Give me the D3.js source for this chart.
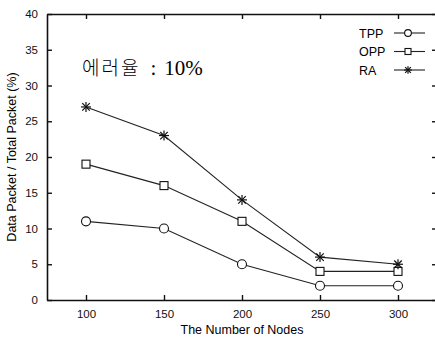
<!DOCTYPE html>
<html>
<head>
<meta charset="utf-8">
<script src="https://cdn.jsdelivr.net/npm/d3@7"></script>
<style>
  body { margin: 0; background: #fff; }
  svg { font-family: "Liberation Sans", Arial, sans-serif; }
</style>
</head>
<body>
<div id="chart"></div>
<script>
// values
const nodes = [100, 150, 200, 250, 300];
const tpp = [11, 10, 5, 2, 2];
const opp = [19, 16, 11, 4, 4];
const ra = [27, 23, 14, 6, 5];
const yTicks = [0, 5, 10, 15, 20, 25, 30, 35, 40];
const seriesNames = ["TPP", "OPP", "RA"];
const seriesMarks = ["circle", "square", "star"];

const width = 435, height = 342;
const margin = { left: 47, top: 14, right: -2, bottom: 42 };

const svg = d3.select("#chart").append("svg")
    .attr("width", width)
    .attr("height", height);

const x = d3.scaleLinear().domain([75, 325]).range([margin.left, width - margin.right]);
const y = d3.scaleLinear().domain([0, 40]).range([height - margin.bottom, margin.top]);

// frame axes
const gx = svg.append("g").attr("transform", `translate(0,${y(0)})`)
    .call(d3.axisBottom(x).tickValues(nodes).tickSize(-5).tickPadding(10).tickSizeOuter(0));
const gxTop = svg.append("g").attr("transform", `translate(0,${y(40)})`)
    .call(d3.axisTop(x).tickValues(nodes).tickSize(-5).tickFormat("").tickSizeOuter(0));
const gy = svg.append("g").attr("transform", `translate(${x(75)},0)`)
    .call(d3.axisLeft(y).tickValues(yTicks).tickSize(-5).tickPadding(9).tickSizeOuter(0));
const gyR = svg.append("g").attr("transform", `translate(${x(325)},0)`)
    .call(d3.axisRight(y).tickValues(yTicks).tickSize(-5).tickFormat("").tickSizeOuter(0));

[gx, gxTop, gy, gyR].forEach(g => {
    g.select(".domain").attr("stroke", "#111").attr("stroke-width", 1.6);
    g.selectAll(".tick line").attr("stroke", "#111").attr("stroke-width", 1.4);
    g.selectAll("text").attr("fill", "#111").style("font-size", "11.5px")
        .style("font-family", "Liberation Sans, Arial, sans-serif");
});

// axis titles
svg.append("text")
    .attr("x", 242).attr("y", 334)
    .attr("text-anchor", "middle")
    .style("font-size", "12.5px")
    .text("The Number of Nodes");

svg.append("text")
    .attr("transform", `translate(16,${157}) rotate(-90)`)
    .attr("text-anchor", "middle")
    .style("font-size", "12.5px")
    .text("Data Packet / Total Packet (%)");

const note = svg.append("text")
    .attr("x", 82).attr("y", 75)
    .style("font-size", "19px");
note.append("tspan")
    .style("font-family", "'Noto Sans CJK KR', sans-serif")
    .style("font-weight", 300)
    .style("letter-spacing", "2px")
    .text("에러율");
note.append("tspan")
    .style("font-family", "'Liberation Serif', 'DejaVu Serif', serif")
    .style("font-size", "21px")
    .attr("dx", 10)
    .text(":");
note.append("tspan")
    .style("font-family", "'Liberation Serif', 'DejaVu Serif', serif")
    .style("font-size", "21px")
    .attr("dx", 8)
    .text("10%");

function drawMark(g, type, cx, cy, s) {
    if (type === "circle") {
        g.append("circle").attr("cx", cx).attr("cy", cy).attr("r", 4.5 * s)
            .attr("fill", "#fff").attr("stroke", "#111").attr("stroke-width", 1.1);
    } else if (type === "square") {
        g.append("rect").attr("x", cx - 4 * s).attr("y", cy - 4 * s).attr("width", 8 * s).attr("height", 8 * s)
            .attr("fill", "#fff").attr("stroke", "#111").attr("stroke-width", 1.1);
    } else {
        const r = 5 * s;
        [[-r, 0, r, 0], [0, -r, 0, r], [-r * 0.75, -r * 0.75, r * 0.75, r * 0.75], [-r * 0.75, r * 0.75, r * 0.75, -r * 0.75]]
            .forEach(p => g.append("line")
                .attr("x1", cx + p[0]).attr("y1", cy + p[1]).attr("x2", cx + p[2]).attr("y2", cy + p[3])
                .attr("stroke", "#111").attr("stroke-width", 1.2));
    }
}

const line = d3.line().x((d, i) => x(nodes[i])).y(d => y(d));
const allSeries = [tpp, opp, ra];

allSeries.forEach((vals, k) => {
    const g = svg.append("g");
    g.append("path").datum(vals).attr("d", line)
        .attr("fill", "none").attr("stroke", "#222").attr("stroke-width", 1.1);
    vals.forEach((v, i) => drawMark(g, seriesMarks[k], x(nodes[i]), y(v), 1));
});

// legend
seriesNames.forEach((name, k) => {
    const ly = 33 + k * 18.5;
    const g = svg.append("g");
    g.append("text").attr("x", 359).attr("y", ly + 4.5)
        .style("font-size", "12.5px").text(name);
    g.append("line").attr("x1", 394).attr("x2", 425).attr("y1", ly).attr("y2", ly)
        .attr("stroke", "#222").attr("stroke-width", 1.1);
    drawMark(g, seriesMarks[k], 408, ly, 0.75);
});
</script>
</body>
</html>
